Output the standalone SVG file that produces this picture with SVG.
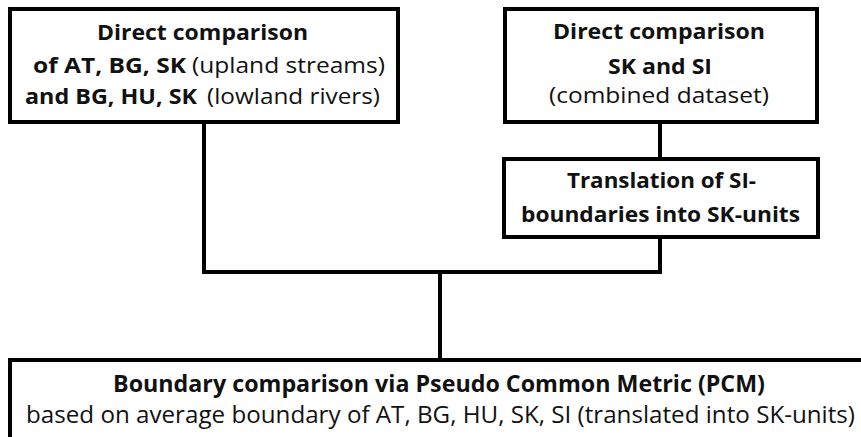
<svg xmlns="http://www.w3.org/2000/svg" width="861" height="437" viewBox="0 0 861 437">
<style>
.box{fill:#fff;stroke:#000;stroke-width:4}
.con{fill:none;stroke:#000;stroke-width:4;stroke-linejoin:miter}
text{font-family:"Open Sans","Noto Sans",sans-serif;fill:#111;font-size:22px}
.b{font-weight:bold}
.big{font-size:24px}
</style>
<rect width="861" height="437" fill="#fff"/>
<g id="connectors">
<polyline class="con" points="204,122 204,272 660,272 660,237"/>
<line class="con" x1="660" y1="122" x2="660" y2="159"/>
<line class="con" x1="440" y1="272" x2="440" y2="360"/>
</g>
<g id="n1">
<rect class="box" x="10" y="9" width="388" height="113"/>
<text x="97" y="40" class="b" textLength="211" lengthAdjust="spacingAndGlyphs">Direct comparison</text>
<text y="73"><tspan x="33" class="b" textLength="153" lengthAdjust="spacingAndGlyphs">of AT, BG, SK</tspan><tspan x="192" textLength="193" lengthAdjust="spacingAndGlyphs">(upland streams)</tspan></text>
<text y="104"><tspan x="25" class="b" textLength="172" lengthAdjust="spacingAndGlyphs">and BG, HU, SK</tspan><tspan x="207" textLength="173" lengthAdjust="spacingAndGlyphs">(lowland rivers)</tspan></text>
</g>
<g id="n2">
<rect class="box" x="505" y="9" width="312" height="113"/>
<text x="553" y="39" class="b" textLength="212" lengthAdjust="spacingAndGlyphs">Direct comparison</text>
<text x="608" y="74" class="b" textLength="104" lengthAdjust="spacingAndGlyphs">SK and SI</text>
<text x="549" y="103" textLength="220" lengthAdjust="spacingAndGlyphs">(combined dataset)</text>
</g>
<g id="n3">
<rect class="box" x="504" y="159" width="314" height="78"/>
<text x="567" y="188" class="b" textLength="189" lengthAdjust="spacingAndGlyphs">Translation of SI-</text>
<text x="521" y="222" class="b" textLength="279" lengthAdjust="spacingAndGlyphs">boundaries into SK-units</text>
</g>
<g id="n4">
<rect class="box" x="10" y="360" width="880" height="100"/>
<text x="113" y="392" class="b big" textLength="652" lengthAdjust="spacingAndGlyphs">Boundary comparison via Pseudo Common Metric (PCM)</text>
<text x="26" y="423" class="big" textLength="829" lengthAdjust="spacingAndGlyphs">based on average boundary of AT, BG, HU, SK, SI (translated into SK-units)</text>
</g>
</svg>
